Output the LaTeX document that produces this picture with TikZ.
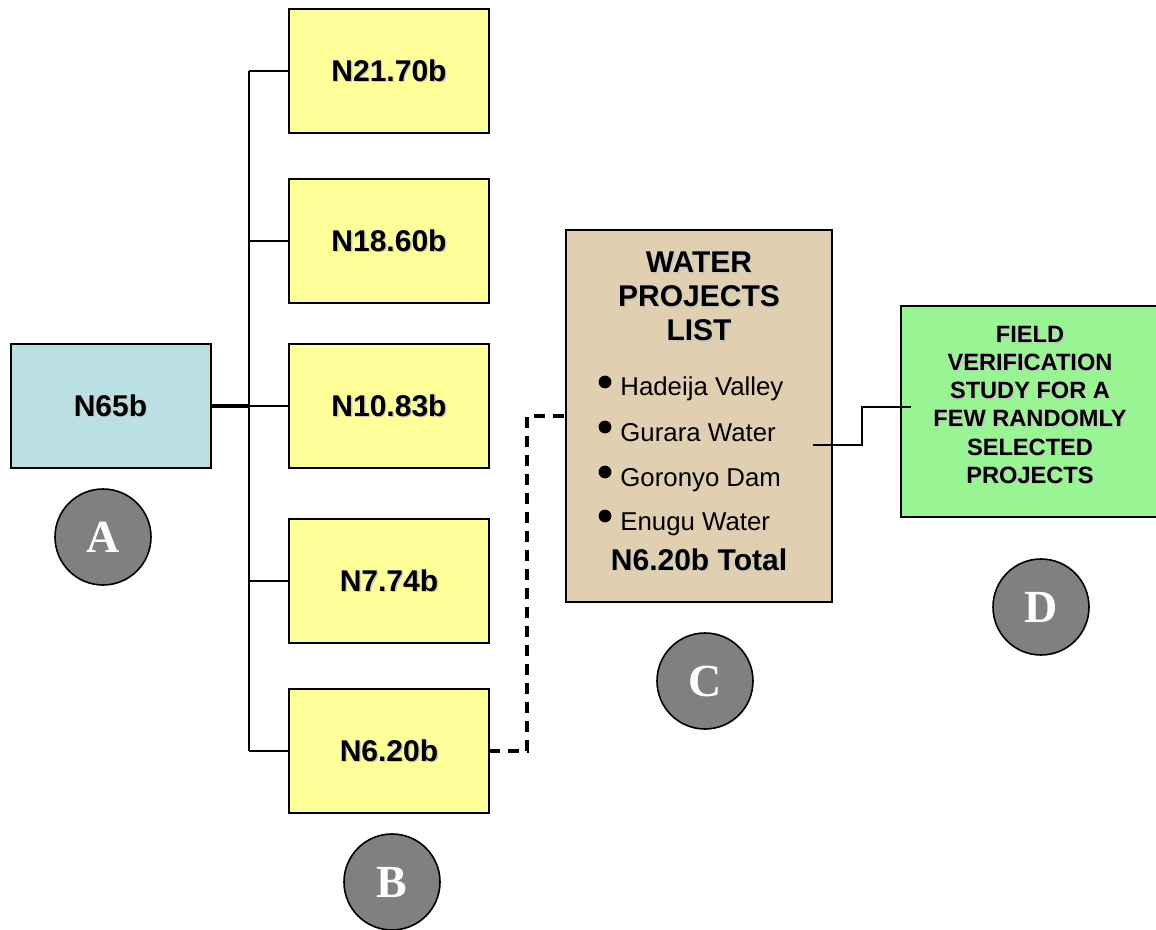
\documentclass[tikz,border=0pt]{standalone}
\usepackage{fontspec}
\setmainfont{Liberation Sans}
\newfontfamily\letterfont{Liberation Serif}
\definecolor{totalblue}{RGB}{187,224,227}
\definecolor{sharey}{RGB}{255,255,153}
\definecolor{listtan}{RGB}{224,207,177}
\definecolor{fieldgreen}{RGB}{153,245,148}
\definecolor{badgegray}{RGB}{128,128,128}
% grey offset copy behind bold labels
\newcommand\shadowed[1]{\leavevmode\rlap{\kern0.7pt\raisebox{-0.7pt}{\textcolor{black!22}{#1}}}#1}
\begin{document}
\begin{tikzpicture}[x=0.5pt,y=-0.5pt,
	box/.style={draw,line width=1pt,inner sep=0pt,outer sep=0pt,minimum width=100pt,minimum height=62pt,font=\fontsize{15}{18}\selectfont\bfseries},
	badge/.style={circle,draw,line width=0.8pt,fill=badgegray,minimum size=48pt,inner sep=0pt,text=white,font=\letterfont\fontsize{23}{25}\selectfont\bfseries},
	line/.style={anchor=base,inner sep=0pt}]
	\useasboundingbox (0,0) rectangle (1156,930);
	% total and its shares
	\node[box,fill=totalblue] (total) at (110.5,406) {\shadowed{N65b}};
	\foreach \val/\ypos [count=\i] in {N21.70b/71,N18.60b/241,N10.83b/406,N7.74b/581,N6.20b/751}
		\node[box,fill=sharey] (share\i) at (389,\ypos) {\shadowed{\val}};
	\coordinate (trunk) at (249,406);
	\draw[line width=1.1pt] (share1.west -| trunk) -- (share5.west -| trunk);
	\foreach \i in {1,...,5}
		\draw[line width=0.8pt] (share\i.west -| trunk) -- (share\i.west);
	\draw[line width=1.6pt] (total.east) -- (trunk);
	% project list
	\node[draw,line width=1pt,fill=listtan,outer sep=0pt,minimum width=133pt,minimum height=186pt] (list) at (699,416) {};
	\foreach \t/\yb [count=\i] in {WATER/273,PROJECTS/307,LIST/341}
		\node[line,font=\fontsize{15}{18}\selectfont\bfseries] (title\i) at (699,\yb) {\shadowed{\t}};
	\foreach \t/\yb [count=\i] in {Hadeija Valley/396,Gurara Water/441,Goronyo Dam/486,Enugu Water/530}{
		\fill (605,\yb-14) circle (3.2pt);
		\node[line,anchor=base west,font=\fontsize{12.9}{15}\selectfont] (item\i) at (620,\yb) {\t};
	}
	\node[line,font=\fontsize{15}{18}\selectfont\bfseries] (listtotal) at (699,570) {\shadowed{N6.20b Total}};
	\draw[line width=1.6pt,dash pattern=on 5.5pt off 4pt] (share5.east) -- ++(38,0) |- (list.west);
	% field study
	\node[draw,line width=1pt,fill=fieldgreen,outer sep=0pt,minimum width=128pt,minimum height=105.5pt] (field) at (1029,411.5) {};
	\foreach \t/\yb [count=\i] in {FIELD/343,VERIFICATION/371,STUDY FOR A/399,FEW RANDOMLY/427,SELECTED/455,PROJECTS/483}
		\node[line,font=\fontsize{11.8}{14}\selectfont\bfseries] (field\i) at (1030,\yb) {\shadowed{\t}};
	\coordinate (listout) at (813,445);
	\coordinate (fieldin) at (911,407);
	\draw[line width=1.2pt] (listout) -- ++(49,0) |- (fieldin);
	% letters
	\node[badge] (badgeA) at (103,537) {A};
	\node[badge] (badgeB) at (392,882) {B};
	\node[badge] (badgeC) at (705,681) {C};
	\node[badge] (badgeD) at (1041,607) {D};
\end{tikzpicture}
\end{document}
